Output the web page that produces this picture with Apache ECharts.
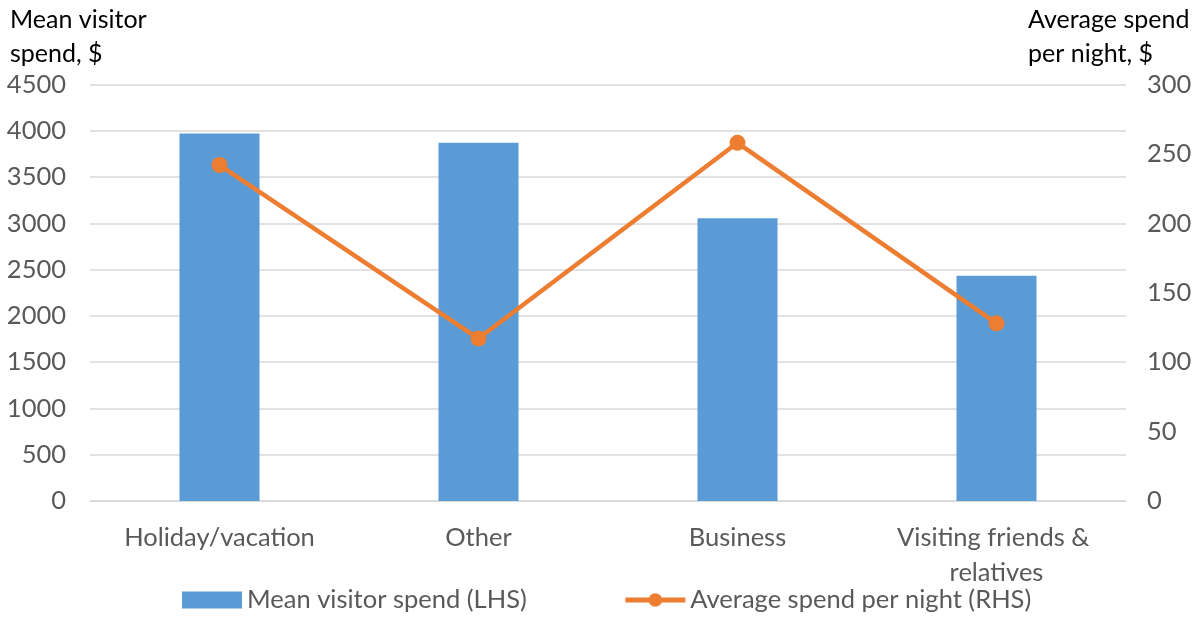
<!DOCTYPE html>
<html>
<head>
<meta charset="utf-8">
<script src="https://cdn.jsdelivr.net/npm/echarts@6/dist/echarts.min.js"></script>
<style>
  html, body { margin: 0; padding: 0; background: #ffffff; }
  #chart { width: 1202px; height: 619px; }
</style>
</head>
<body>
<div id="chart"></div>
<script>
// Visitor spend by purpose of visit
const categories = ['Holiday/vacation', 'Other', 'Business', 'Visiting friends & relatives'];
const meanVisitorSpend = [3970, 3870, 3055, 2435];       // LHS, $
const avgSpendPerNight = [242, 117, 258, 128];           // RHS, $
const leftTitle = 'Mean visitor\nspend, $';
const rightTitle = 'Average spend\nper night, $';
const barName = 'Mean visitor spend (LHS)';
const lineName = 'Average spend per night (RHS)';

const FONT = 'Lato, "Liberation Sans", sans-serif';
const GREY = '#595959';
const FS = 25.5;
const BLUE = '#5B9BD5';
const ORANGE = '#ED7D31';

const chart = echarts.init(document.getElementById('chart'), null, { renderer: 'canvas' });

chart.setOption({
  animation: false,
  backgroundColor: '#ffffff',
  textStyle: { fontFamily: FONT },
  grid: { left: 90, right: 76, top: 84.5, bottom: 118, containLabel: false },
  graphic: [
    {
      type: 'text', left: 10, top: 3,
      style: { text: leftTitle, font: '25px ' + FONT, fill: '#000000', lineHeight: 34 }
    },
    {
      type: 'text', left: 1028, top: 3,
      style: { text: rightTitle, font: '25px ' + FONT, fill: '#000000', lineHeight: 34 }
    }
  ],
  legend: {
    bottom: 1,
    left: 177,
    itemWidth: 60,
    itemHeight: 17,
    itemGap: 96,
    textStyle: { fontSize: FS, color: GREY, fontFamily: FONT },
    data: [
      { name: barName, icon: 'rect' },
      { name: lineName, lineStyle: { width: 5, color: ORANGE } }
    ]
  },
  xAxis: {
    type: 'category',
    data: categories,
    axisTick: { show: false },
    axisLine: { lineStyle: { color: '#D9D9D9', width: 1.5 } },
    axisLabel: {
      color: GREY, fontSize: FS, fontFamily: FONT, margin: 19,
      lineHeight: 35, width: 240, overflow: 'break', interval: 0
    }
  },
  yAxis: [
    {
      type: 'value', min: 0, max: 4500, interval: 500,
      axisLine: { show: false }, axisTick: { show: false },
      splitLine: { lineStyle: { color: '#D9D9D9', width: 1.5 } },
      axisLabel: { color: GREY, fontSize: FS, fontFamily: FONT, margin: 24, formatter: v => String(v) }
    },
    {
      type: 'value', min: 0, max: 300, interval: 50,
      axisLine: { show: false }, axisTick: { show: false },
      splitLine: { show: false },
      axisLabel: { color: GREY, fontSize: FS, fontFamily: FONT, margin: 21, formatter: v => String(v) }
    }
  ],
  series: [
    {
      name: barName,
      type: 'bar',
      yAxisIndex: 0,
      data: meanVisitorSpend,
      barWidth: 80,
      itemStyle: { color: BLUE }
    },
    {
      name: lineName,
      type: 'line',
      yAxisIndex: 1,
      data: avgSpendPerNight,
      symbol: 'circle',
      symbolSize: 16,
      lineStyle: { color: ORANGE, width: 4.5 },
      itemStyle: { color: ORANGE }
    }
  ]
});
</script>
</body>
</html>
